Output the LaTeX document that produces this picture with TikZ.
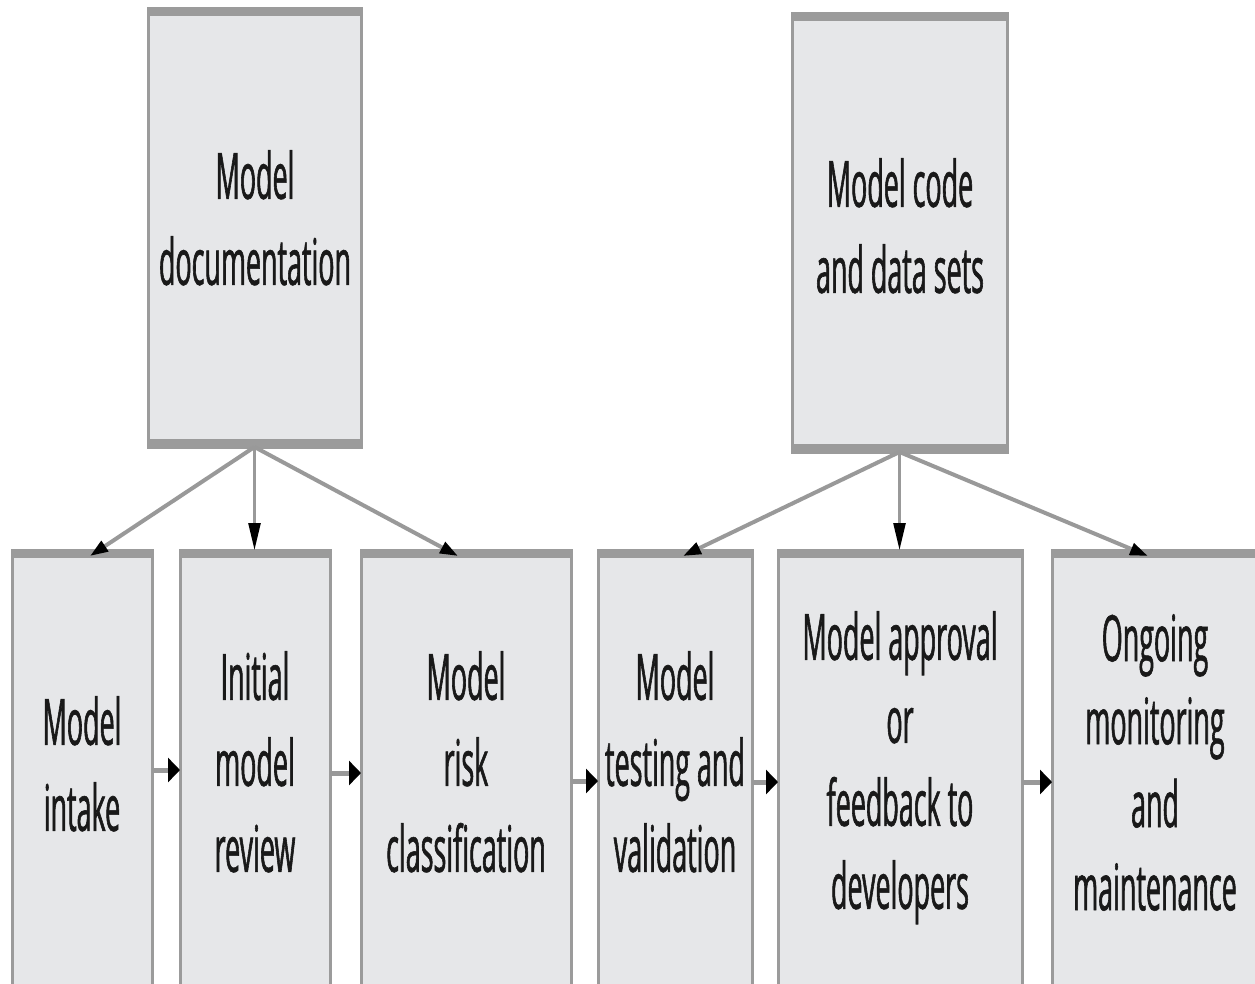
\documentclass[tikz,border=0pt]{standalone}
\usepackage{fontspec}
\usetikzlibrary{arrows.meta}
\newfontfamily\condfont[FakeStretch=0.42,FakeBold=0.9]{Open Sans}
\definecolor{boxfill}{HTML}{E6E7E9}
\definecolor{boxline}{HTML}{9B9B9B}
\definecolor{arrline}{HTML}{999999}
\tikzset{
  box/.style={draw=boxline, line width=3pt, fill=boxfill, rectangle, inner sep=0pt, outer sep=0pt, anchor=north west},
  bar/.style={fill=boxline},
  lbl/.style={anchor=north, align=center, inner sep=0pt, text=black!90, font={\condfont\fontsize{64pt}{86pt}\selectfont}},
  lbltight/.style={lbl, font={\condfont\fontsize{64pt}{83pt}\selectfont}},
  harr/.style={draw=arrline, line width=5pt, -{Triangle[length=12pt,width=24pt,color=black]}},
  darr/.style={draw=arrline, line width=4pt, -{Triangle[length=18pt,width=12pt,color=black]}},
  varr/.style={draw=arrline, line width=2.5pt, -{Triangle[length=27pt,width=12pt,color=black]}},
}
\begin{document}
\begin{tikzpicture}[x=1pt,y=-1pt]
\useasboundingbox (0,0) rectangle (1255,983);
% top boxes
\node[box, minimum width=213pt, minimum height=439pt] (T1) at (148,8) {};
\node[box, minimum width=215pt, minimum height=439pt] (T2) at (792,13) {};
% bottom boxes
\node[box, minimum width=140pt, minimum height=440pt] (B1) at (12,550) {};
\node[box, minimum width=150pt, minimum height=440pt] (B2) at (180,550) {};
\node[box, minimum width=210pt, minimum height=440pt] (B3) at (361,550) {};
\node[box, minimum width=154pt, minimum height=440pt] (B4) at (598,550) {};
\node[box, minimum width=244pt, minimum height=440pt] (B5) at (778,550) {};
\node[box, minimum width=230pt, minimum height=440pt] (B6) at (1052,550) {};
% bars
\foreach \n in {T1,T2,B1,B2,B3,B4,B5,B6}{
  \fill[bar] ([xshift=-1.5pt]\n.north west) rectangle ([xshift=1.5pt,yshift=-8pt]\n.north east);
}
\foreach \n in {T1,T2}{
  \fill[bar] ([xshift=-1.5pt]\n.south west) rectangle ([xshift=1.5pt,yshift=8pt]\n.south east);
}
% labels
\node[lbl] (LT1) at (255,150) {Model\\documentation};
\node[lbl] (LT2) at (900,158) {Model code\\and data sets};
\node[lbl] (L1) at (82,696) {Model\\intake};
\node[lbl] (L2) at (255,651) {Initial\\model\\review};
\node[lbl] (L3) at (466,651) {Model\\risk\\classification};
\node[lbl] (L4) at (675,651) {Model\\testing and\\validation};
\node[lbltight] (L5) at (900,611) {Model approval\\or\\feedback to\\developers};
\node[lbltight] (L6) at (1155,614) {Ongoing\\monitoring\\and\\maintenance};
% arrow end points on the top bars
\coordinate (e1) at ([yshift=-6pt]B1.north -| 90,0);
\coordinate (e3) at ([yshift=-6pt]B3.north -| 458,0);
\coordinate (e4) at ([yshift=-6pt]B4.north -| 683,0);
\coordinate (e6) at ([yshift=-6pt]B6.north -| 1148,0);
% arrows from top boxes
\draw[darr] (T1.south) -- (e1);
\draw[varr] (T1.south) -- (B2.north -| T1.south);
\draw[darr] (T1.south) -- (e3);
\draw[darr] (T2.south) -- (e4);
\draw[varr] (T2.south) -- (B5.north -| T2.south);
\draw[darr] (T2.south) -- (e6);
% horizontal arrows
\draw[harr] (B1.east |- 0,770) -- (B2.west |- 0,770);
\draw[harr] (B2.east |- 0,773) -- (B3.west |- 0,773);
\draw[harr] (B3.east |- 0,781) -- (B4.west |- 0,781);
\draw[harr] (B4.east |- 0,782) -- (B5.west |- 0,782);
\draw[harr] (B5.east |- 0,782) -- (B6.west |- 0,782);
\end{tikzpicture}
\end{document}
